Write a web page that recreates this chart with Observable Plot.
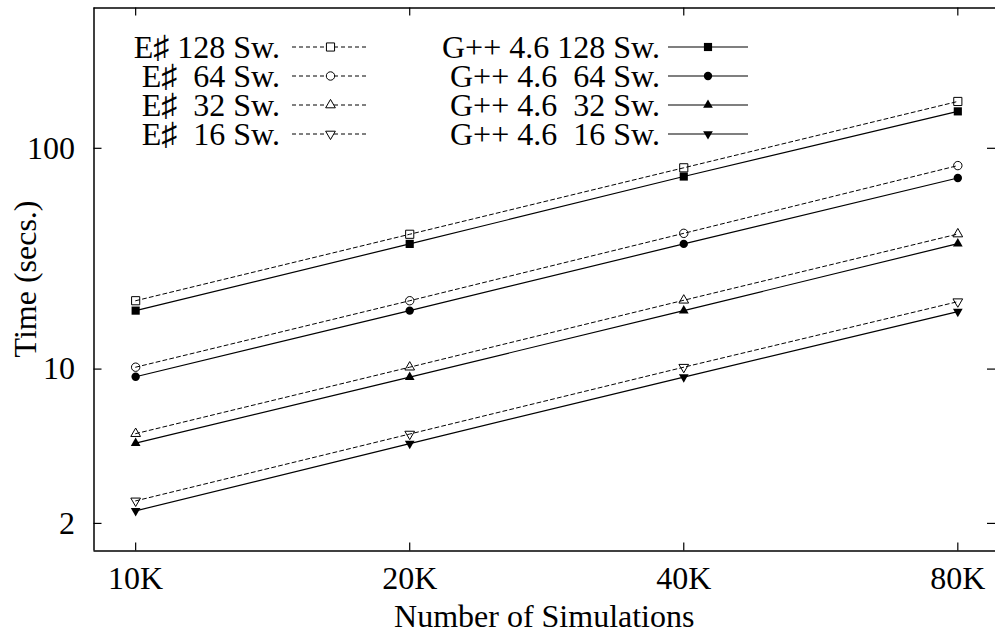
<!DOCTYPE html>
<html><head><meta charset="utf-8">
<script src="https://cdn.jsdelivr.net/npm/d3@7"></script>
<script src="https://cdn.jsdelivr.net/npm/@observablehq/plot@0.6"></script>
<style>body{margin:0;background:#fff;overflow:hidden} svg{display:block}</style>
</head><body><div id="chart"></div>
<script>
// ---- data ----
const simulations = [10000, 20000, 40000, 80000];
const xTickLabels = ["10K", "20K", "40K", "80K"];
const yTicks = [2, 10, 100];
const yTickLabels = ["2", "10", "100"];
const xDomain = [9000, 88000];
const yDomain = [1.5, 432];

const esharpNames = ["E\u266F 128 Sw.", "E\u266F  64 Sw.", "E\u266F  32 Sw.", "E\u266F  16 Sw."];
const gppNames = ["G++ 4.6 128 Sw.", "G++ 4.6  64 Sw.", "G++ 4.6  32 Sw.", "G++ 4.6  16 Sw."];

const esharp128 = [20.4, 40.8, 81.6, 163];
const esharp64  = [10.2, 20.4, 41.2, 83.5];
const esharp32  = [5.1, 10.2, 20.5, 40.9];
const esharp16  = [2.53, 5.08, 10.2, 20.2];
const gpp128 = [18.4, 36.9, 74.5, 147];
const gpp64  = [9.23, 18.4, 36.9, 73.4];
const gpp32  = [4.62, 9.2, 18.4, 37.0];
const gpp16  = [2.28, 4.6, 9.2, 18.2];

const esharpSeries = [esharp128, esharp64, esharp32, esharp16];
const gppSeries = [gpp128, gpp64, gpp32, gpp16];

// ---- build tables ----
const tidy = (names, series) => names.flatMap((n, k) => simulations.map((x, i) => ({series: n, k, x, y: series[k][i]})));
const eData = tidy(esharpNames, esharpSeries);
const gData = tidy(gppNames, gppSeries);

// ---- symbols ----
const sqrt3 = Math.sqrt(3);
const invTriangle = {
  draw(context, size) {
    const y = Math.sqrt(size / (sqrt3 * 3));
    context.moveTo(0, y * 2);
    context.lineTo(-sqrt3 * y, -y);
    context.lineTo(sqrt3 * y, -y);
    context.closePath();
  }
};
const symbols = [d3.symbolSquare, d3.symbolCircle, d3.symbolTriangle, invTriangle];
const radii = [4.6, 4.2, 3.6, 3.6];

const W = 995, H = 637, mL = 93.5, mR = 0, mT = 7.5, mB = 86.5;
const innerW = W - mL - mR, innerH = H - mT - mB;
const font = "'Liberation Serif', 'Times New Roman', Times, serif";
const fs = 32;

const dotMarks = [];
for (let k = 0; k < 4; k++) {
  dotMarks.push(Plot.dot(eData.filter(d => d.k === k), {x: "x", y: "y", symbol: symbols[k], r: radii[k], fill: "white", fillOpacity: 0, stroke: "black", strokeWidth: 1}));
  dotMarks.push(Plot.dot(gData.filter(d => d.k === k), {x: "x", y: "y", symbol: symbols[k], r: radii[k], fill: "black", stroke: "none"}));
}

const chart = Plot.plot({
  width: W, height: H,
  marginLeft: mL, marginRight: mR, marginTop: mT, marginBottom: mB,
  style: {fontFamily: font, fontSize: fs + "px", color: "black", background: "white"},
  x: {type: "log", domain: xDomain},
  y: {type: "log", domain: yDomain},
  marks: [
    Plot.axisX(simulations, {tickSize: 0, tickPadding: 15, tickFormat: d => xTickLabels[simulations.indexOf(d)], label: null, fontSize: fs}),
    Plot.axisY(yTicks, {tickSize: 0, tickPadding: 19, tickFormat: d => yTickLabels[yTicks.indexOf(d)], label: null, fontSize: fs}),
    Plot.tickX(simulations, {x: d => d, insetTop: innerH - 8, stroke: "black", strokeWidth: 1.2}),
    Plot.tickX(simulations, {x: d => d, insetBottom: innerH - 8, stroke: "black", strokeWidth: 1.2}),
    Plot.tickY(yTicks, {y: d => d, insetRight: innerW - 8, stroke: "black", strokeWidth: 1.2}),
    Plot.tickY(yTicks, {y: d => d, insetLeft: innerW - 8, stroke: "black", strokeWidth: 1.2}),
    Plot.ruleX([xDomain[0]], {stroke: "black", strokeWidth: 1.5}),
    Plot.ruleY([yDomain[0], yDomain[1]], {stroke: "black", strokeWidth: 1.5}),
    Plot.line(eData, {x: "x", y: "y", z: "series", stroke: "black", strokeWidth: 1, strokeDasharray: "4,3"}),
    Plot.line(gData, {x: "x", y: "y", z: "series", stroke: "black", strokeWidth: 1.2}),
    ...dotMarks
  ]
});

document.getElementById("chart").appendChild(chart);

// ---- axis titles and legend ----
const svg = d3.select(chart);
svg.append("text").attr("transform", `translate(25,${mT + innerH / 2}) rotate(-90)`)
  .attr("text-anchor", "middle").attr("dominant-baseline", "central")
  .attr("font-family", font).attr("font-size", fs).attr("fill", "black").text("Time (secs.)");
svg.append("text").attr("x", mL + innerW / 2).attr("y", 616)
  .attr("text-anchor", "middle").attr("dominant-baseline", "central")
  .attr("font-family", font).attr("font-size", fs).attr("fill", "black").text("Number of Simulations");

const rowsY = [47, 76, 105, 134];
const cols = [
  {names: esharpNames, textEnd: 280, s0: 292, s1: 369, dash: "4,3", open: true},
  {names: gppNames, textEnd: 660, s0: 668, s1: 748, dash: null, open: false}
];
const lg = svg.append("g");
cols.forEach(c => {
  c.names.forEach((n, k) => {
    const y = rowsY[k];
    lg.append("text").attr("x", c.textEnd).attr("y", y)
      .attr("text-anchor", "end").attr("dominant-baseline", "central")
      .attr("font-family", font).attr("font-size", fs).attr("fill", "black")
      .attr("xml:space", "preserve").style("white-space", "pre").text(n);
    const ln = lg.append("line").attr("x1", c.s0).attr("x2", c.s1).attr("y1", y).attr("y2", y)
      .attr("stroke", "black").attr("stroke-width", c.open ? 1 : 1.2);
    if (c.dash) ln.attr("stroke-dasharray", c.dash);
    const r = radii[k];
    lg.append("path").attr("transform", `translate(${(c.s0 + c.s1) / 2},${y})`)
      .attr("d", d3.symbol(symbols[k], Math.PI * r * r)())
      .attr("fill", c.open ? "white" : "black").attr("stroke", c.open ? "black" : "none").attr("stroke-width", 1);
  });
});
</script>
</body></html>
